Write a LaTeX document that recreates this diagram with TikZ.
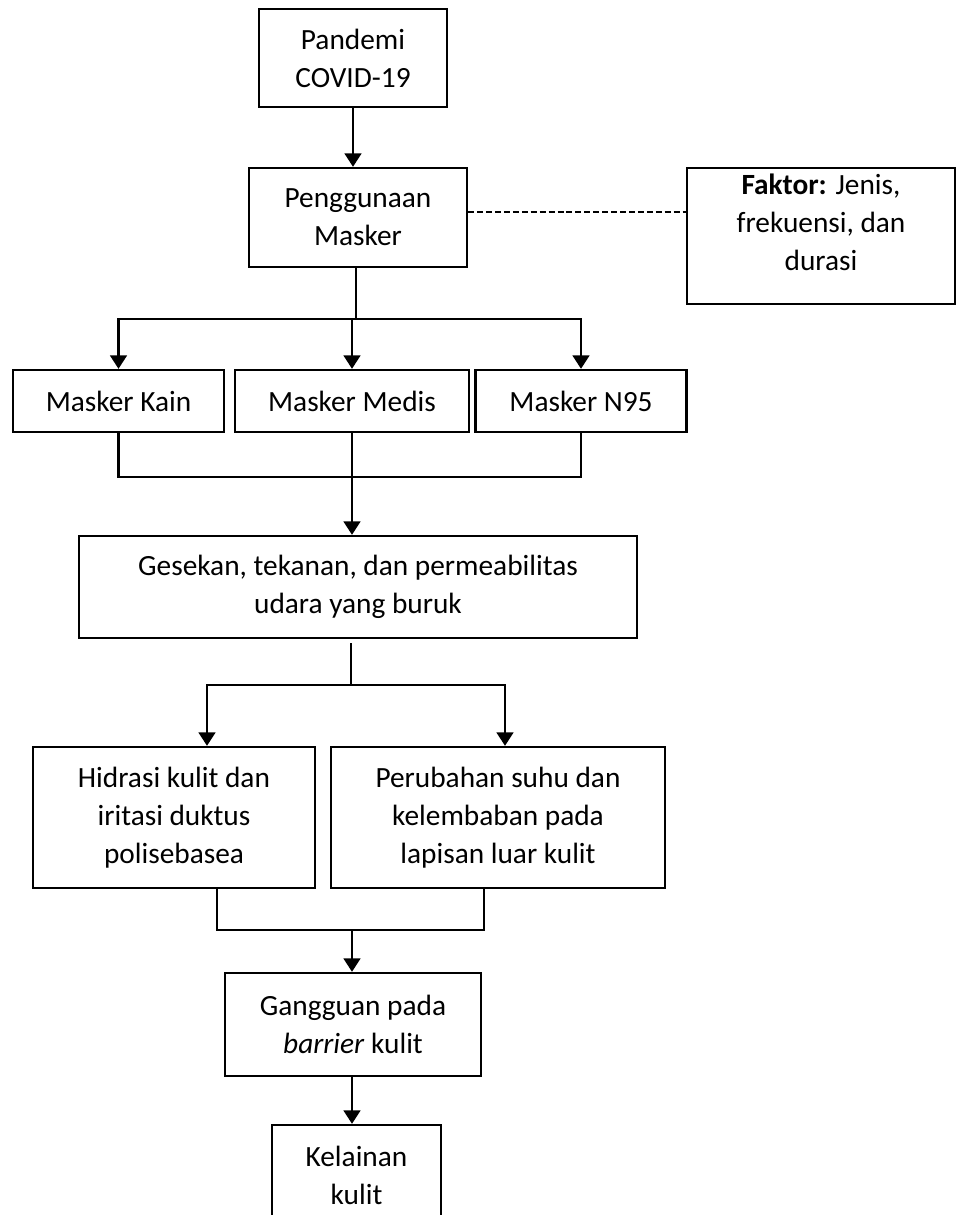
\documentclass[tikz,border=0pt]{standalone}
\usepackage{fontspec}
\setmainfont{Carlito}
\usetikzlibrary{arrows.meta}
\begin{document}
\begin{tikzpicture}[x=0.75pt,y=-0.75pt,
  box/.style={draw=black, line width=1.8pt, align=center, inner sep=0pt,
    font=\fontsize{22}{28.5}\selectfont},
  txt/.style={align=center, inner sep=0pt, font=\fontsize{22}{28.5}\selectfont},
  conn/.style={line width=1.6pt},
  arr/.style={conn, -{Triangle[width=12.5pt,length=10pt]}},
  dline/.style={line width=1.3pt, dash pattern=on 4.5pt off 2.2pt}
]
\useasboundingbox (0,0) rectangle (957,1215);
\clip (0,0) rectangle (957,1215);

% nodes
\node[box, minimum width=141pt, minimum height=73.5pt] (pan) at (353,58) {Pandemi\\COVID-19};
\node[box, minimum width=163.5pt, minimum height=74.25pt] (pen) at (358,217.5) {Penggunaan\\Masker};
\node[box, minimum width=201pt, minimum height=102pt] (fak) at (821,236) {};
\node[txt] (fakt) at (821,222.5) {\textbf{Faktor:} Jenis,\\frekuensi, dan\\durasi};
\node[box, minimum width=158.25pt, minimum height=46.5pt] (kain) at (118.5,401) {Masker Kain};
\node[box, minimum width=175.5pt, minimum height=46.5pt] (medis) at (352,401) {Masker Medis};
\node[box, minimum width=158.25pt, minimum height=46.5pt] (n95) at (581,401) {Masker N95};
\node[box, minimum width=418.5pt, minimum height=76.5pt] (ges) at (358,587) {Gesekan, tekanan, dan permeabilitas\\udara yang buruk};
\node[box, minimum width=211.5pt, minimum height=105.75pt] (hid) at (174,817.5) {Hidrasi kulit dan\\iritasi duktus\\polisebasea};
\node[box, minimum width=250.5pt, minimum height=105.75pt] (per) at (498,817.5) {Perubahan suhu dan\\kelembaban pada\\lapisan luar kulit};
\node[box, minimum width=192pt, minimum height=77.25pt] (gan) at (353,1024.5) {Gangguan pada\\\textit{barrier} kulit};
\node[box, minimum width=126.75pt, minimum height=75pt] (kel) at (356.5,1175) {Kelainan\\kulit};

% junction coordinates
\coordinate (j1) at (356,319);
\coordinate (dy) at (0,212);
\coordinate (m) at (352,477);
\coordinate (j3) at (351,685);
\coordinate (b1) at (207,685);
\coordinate (b2) at (505,685);
\coordinate (c1) at (217,930);
\coordinate (c2) at (484,930);
\coordinate (c3) at (352,930);

% connectors
\draw[arr] (pan.south) -- (pen.north -| pan.south);
\draw[dline] (pen.east |- dy) -- (fak.west |- dy);
\draw[conn] (pen.south -| j1) -- (j1);
\draw[arr] (j1) -| (kain.north);
\draw[arr] (j1) -| (n95.north);
\draw[arr] (j1 -| medis.north) -- (medis.north);

\draw[conn] (kain.south) |- (m) -| (n95.south);
\draw[conn] (medis.south) -- (m);
\draw[arr] (m) -- (ges.north -| m);

\draw[conn] ([yshift=-3pt]ges.south -| j3) -- (j3);
\draw[arr] (j3) -| (hid.north -| b1);
\draw[arr] (j3) -| (per.north -| b2);

\draw[conn] (hid.south -| c1) -- (c1) -- (c2) -- (per.south -| c2);
\draw[arr] (c3) -- (gan.north -| c3);
\draw[arr] (gan.south -| c3) -- (kel.north -| c3);
\end{tikzpicture}
\end{document}
